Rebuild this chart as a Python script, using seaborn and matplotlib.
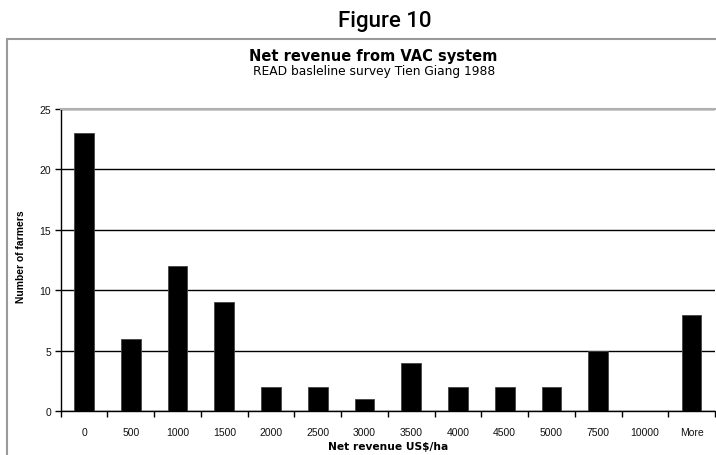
import matplotlib
matplotlib.use("Agg")
import matplotlib.pyplot as plt
from matplotlib.patches import Rectangle
from matplotlib.ticker import FixedLocator, NullFormatter
import seaborn as sns
import pandas as pd

# Histogram of net revenue per hectare
revenue_bins = ["0", "500", "1000", "1500", "2000", "2500", "3000", "3500",
                "4000", "4500", "5000", "7500", "10000", "More"]
farmer_counts = [23, 6, 12, 9, 2, 2, 1, 4, 2, 2, 2, 5, 0, 8]
y_ticks = [0, 5, 10, 15, 20, 25]

df = pd.DataFrame({"bin": revenue_bins, "farmers": farmer_counts})

sns.set_style("white")
plt.rcParams["font.family"] = ["Liberation Sans", "DejaVu Sans"]
plt.rcParams["text.color"] = "black"
plt.rcParams["axes.labelcolor"] = "black"

fig = plt.figure(figsize=(7.16, 4.56), dpi=100)
fig.patch.set_facecolor("white")

# Chart frame
fig.patches.append(Rectangle((7 / 716, -0.1), 1.2, 0.1 + (456 - 40) / 456,
                             transform=fig.transFigure, fill=False,
                             edgecolor="#9a9a9a", linewidth=1.5, zorder=0))

ax = fig.add_axes([60.7 / 716, 1 - 412.3 / 456, 654.3 / 716, (412.3 - 110) / 456])
sns.barplot(data=df, x="bin", y="farmers", order=revenue_bins, color="black",
            width=0.42, edgecolor="#444444", linewidth=0.6, saturation=1,
            ax=ax, zorder=3)

n = len(revenue_bins)
ax.set_xlim(-0.5, n - 0.5)
ax.set_ylim(0, 25)
ax.set_yticks(y_ticks)
ax.yaxis.grid(True, color="black", linewidth=1)
ax.set_axisbelow(True)

# Category boundaries as tick marks, labels centred on the bars
ax.xaxis.set_major_locator(FixedLocator([i - 0.5 for i in range(n + 1)]))
ax.xaxis.set_major_formatter(NullFormatter())
ax.xaxis.set_minor_locator(FixedLocator(list(range(n))))
ax.set_xticklabels(revenue_bins, minor=True)
ax.tick_params(axis="x", which="major", length=4, width=1, color="black",
               direction="out", bottom=True)
ax.tick_params(axis="x", which="minor", length=0, pad=11, labelsize=7.5,
               labelcolor="#111111")
ax.tick_params(axis="y", length=4, width=1, color="black", direction="out",
               left=True, labelsize=7.5, labelcolor="#111111", pad=3)

for side in ["left", "bottom"]:
    ax.spines[side].set_color("black")
    ax.spines[side].set_linewidth(1)
ax.spines["top"].set_color("#b0b0b0")
ax.spines["top"].set_linewidth(1.5)
ax.spines["right"].set_visible(False)

ax.set_xlabel("Net revenue US$/ha", fontsize=7.7, fontweight="bold",
              family="DejaVu Sans", labelpad=3)
ax.set_ylabel("Number of farmers", fontsize=7.4, fontweight="bold")
ax.yaxis.set_label_coords(-0.053, 0.515)

fig.text(385 / 716, 1 - 22 / 456, "Figure 10", ha="center", va="center",
         fontsize=16, fontweight="medium", family=["Roboto", "DejaVu Sans"])
fig.text(373 / 716, 1 - 57 / 456, "Net revenue from VAC system", ha="center",
         va="center", fontsize=10.5, fontweight="bold", family="DejaVu Sans")
fig.text(374 / 716, 1 - 72 / 456, "READ basleline survey Tien Giang 1988",
         ha="center", va="center", fontsize=8.8, family="DejaVu Sans")

fig.savefig("out.png", dpi=100)
